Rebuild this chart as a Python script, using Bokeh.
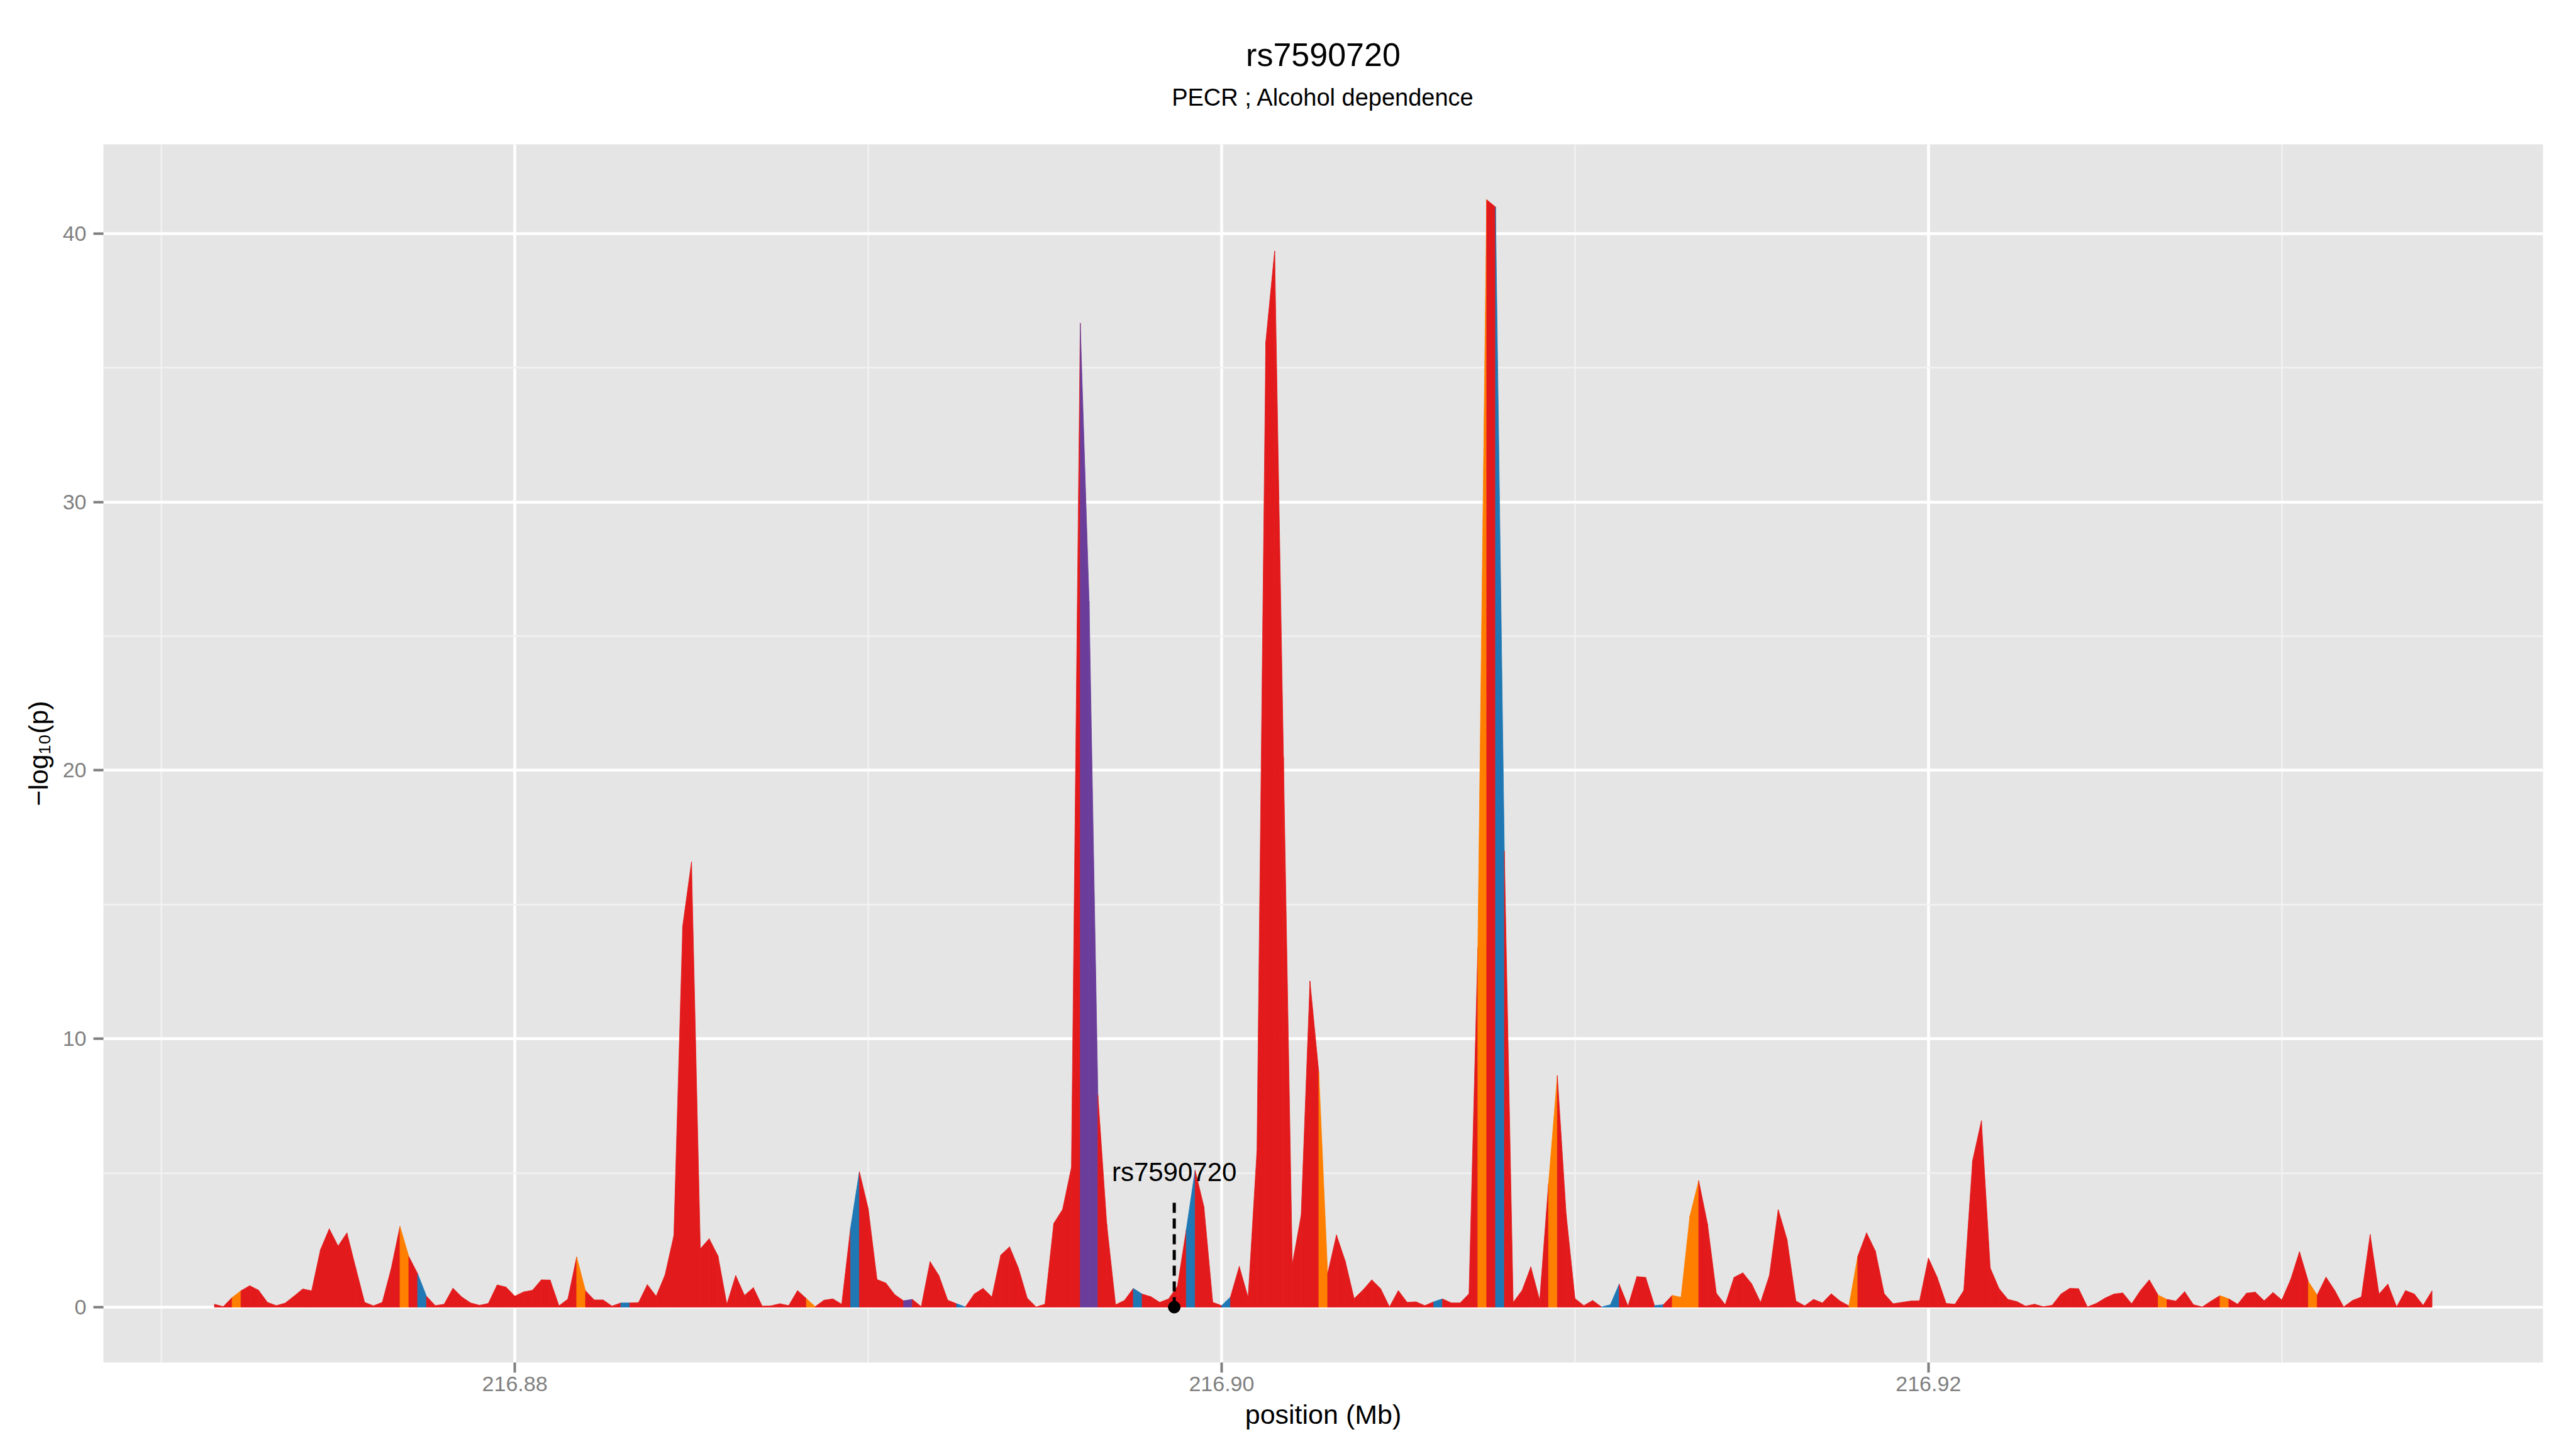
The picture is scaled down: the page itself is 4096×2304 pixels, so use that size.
from bokeh.plotting import figure
from bokeh.models import FixedTicker, Range1d, ColumnDataSource, NumeralTickFormatter
from bokeh.layouts import column
from bokeh.embed import file_html
from bokeh.resources import INLINE
from bokeh.core.properties import value

# ---------------- data ----------------
title_text = "rs7590720"
subtitle_text = "PECR ; Alcohol dependence"
x_label = "position (Mb)"
y_label = "\u2212log\u2081\u2080(p)"

snp_name = "rs7590720"
snp_pos = 216.89866
snp_line_top = 4.1
snp_label_y = 5.04

pos = [
    216.87150, 216.87175, 216.87200, 216.87225, 216.87250, 216.87275, 216.87300, 216.87325,
    216.87350, 216.87375, 216.87400, 216.87425, 216.87450, 216.87475, 216.87500, 216.87525,
    216.87550, 216.87575, 216.87600, 216.87625, 216.87650, 216.87675, 216.87700, 216.87725,
    216.87750, 216.87775, 216.87800, 216.87825, 216.87850, 216.87875, 216.87900, 216.87925,
    216.87950, 216.87975, 216.88000, 216.88025, 216.88050, 216.88075, 216.88100, 216.88125,
    216.88150, 216.88175, 216.88200, 216.88225, 216.88250, 216.88275, 216.88300, 216.88325,
    216.88350, 216.88375, 216.88400, 216.88425, 216.88450, 216.88475, 216.88500, 216.88525,
    216.88550, 216.88575, 216.88600, 216.88625, 216.88650, 216.88675, 216.88700, 216.88725,
    216.88750, 216.88775, 216.88800, 216.88825, 216.88850, 216.88875, 216.88900, 216.88925,
    216.88950, 216.88975, 216.89000, 216.89025, 216.89050, 216.89075, 216.89100, 216.89125,
    216.89150, 216.89175, 216.89200, 216.89225, 216.89250, 216.89275, 216.89300, 216.89325,
    216.89350, 216.89375, 216.89400, 216.89425, 216.89450, 216.89475, 216.89500, 216.89525,
    216.89550, 216.89575, 216.89600, 216.89625, 216.89650, 216.89675, 216.89700, 216.89725,
    216.89750, 216.89775, 216.89800, 216.89825, 216.89850, 216.89875, 216.89900, 216.89925,
    216.89950, 216.89975, 216.90000, 216.90025, 216.90050, 216.90075, 216.90100, 216.90125,
    216.90150, 216.90175, 216.90200, 216.90225, 216.90250, 216.90275, 216.90300, 216.90325,
    216.90350, 216.90375, 216.90400, 216.90425, 216.90450, 216.90475, 216.90500, 216.90525,
    216.90550, 216.90575, 216.90600, 216.90625, 216.90650, 216.90675, 216.90700, 216.90725,
    216.90750, 216.90775, 216.90800, 216.90825, 216.90850, 216.90875, 216.90900, 216.90925,
    216.90950, 216.90975, 216.91000, 216.91025, 216.91050, 216.91075, 216.91100, 216.91125,
    216.91150, 216.91175, 216.91200, 216.91225, 216.91250, 216.91275, 216.91300, 216.91325,
    216.91350, 216.91375, 216.91400, 216.91425, 216.91450, 216.91475, 216.91500, 216.91525,
    216.91550, 216.91575, 216.91600, 216.91625, 216.91650, 216.91675, 216.91700, 216.91725,
    216.91750, 216.91775, 216.91800, 216.91825, 216.91850, 216.91875, 216.91900, 216.91925,
    216.91950, 216.91975, 216.92000, 216.92025, 216.92050, 216.92075, 216.92100, 216.92125,
    216.92150, 216.92175, 216.92200, 216.92225, 216.92250, 216.92275, 216.92300, 216.92325,
    216.92350, 216.92375, 216.92400, 216.92425, 216.92450, 216.92475, 216.92500, 216.92525,
    216.92550, 216.92575, 216.92600, 216.92625, 216.92650, 216.92675, 216.92700, 216.92725,
    216.92750, 216.92775, 216.92800, 216.92825, 216.92850, 216.92875, 216.92900, 216.92925,
    216.92950, 216.92975, 216.93000, 216.93025, 216.93050, 216.93075, 216.93100, 216.93125,
    216.93150, 216.93175, 216.93200, 216.93225, 216.93250, 216.93275, 216.93300, 216.93325,
    216.93350, 216.93375, 216.93400, 216.93425,
]

logp = [
    0.11, 0.02, 0.36, 0.61, 0.80, 0.63, 0.18, 0.06, 0.15, 0.41,
    0.68, 0.61, 2.14, 2.92, 2.28, 2.77, 1.46, 0.18, 0.05, 0.18,
    1.43, 3.01, 1.89, 1.25, 0.41, 0.06, 0.11, 0.71, 0.38, 0.16,
    0.07, 0.14, 0.83, 0.75, 0.41, 0.57, 0.63, 1.02, 1.01, 0.05,
    0.30, 1.87, 0.61, 0.27, 0.27, 0.04, 0.16, 0.16, 0.17, 0.84,
    0.41, 1.20, 2.67, 14.2, 16.6, 2.18, 2.55, 1.91, 0.11, 1.18,
    0.44, 0.73, 0.04, 0.05, 0.13, 0.06, 0.62, 0.32, 0.02, 0.26,
    0.31, 0.11, 2.95, 5.05, 3.68, 1.03, 0.90, 0.47, 0.24, 0.29,
    0.02, 1.70, 1.18, 0.26, 0.13, 0.01, 0.49, 0.70, 0.38, 1.94,
    2.25, 1.46, 0.34, 0.01, 0.11, 3.12, 3.64, 5.21, 36.66, 26.3,
    7.9, 3.1, 0.09, 0.25, 0.70, 0.49, 0.39, 0.18, 0.31, 0.78,
    2.89, 5.10, 3.74, 0.18, 0.06, 0.38, 1.52, 0.36, 5.83, 35.97,
    39.35, 20.5, 1.60, 3.42, 12.15, 8.75, 1.25, 2.69, 1.71, 0.32,
    0.64, 1.02, 0.69, 0.01, 0.62, 0.18, 0.20, 0.06, 0.20, 0.31,
    0.16, 0.16, 0.50, 13.4, 41.26, 40.99, 17.0, 0.18, 0.62, 1.50,
    0.26, 4.6, 8.63, 3.46, 0.32, 0.06, 0.25, 0.01, 0.09, 0.86,
    0.04, 1.14, 1.11, 0.06, 0.09, 0.44, 0.37, 3.39, 4.71, 3.10,
    0.52, 0.09, 1.11, 1.28, 0.87, 0.18, 1.18, 3.64, 2.52, 0.23,
    0.05, 0.29, 0.16, 0.50, 0.23, 0.05, 1.89, 2.77, 2.09, 0.50,
    0.13, 0.18, 0.23, 0.24, 1.83, 1.11, 0.14, 0.11, 0.62, 5.46,
    6.95, 1.46, 0.69, 0.29, 0.21, 0.04, 0.11, 0.02, 0.07, 0.49,
    0.70, 0.69, 0.01, 0.14, 0.34, 0.49, 0.53, 0.13, 0.62, 1.02,
    0.45, 0.29, 0.23, 0.58, 0.09, 0.01, 0.23, 0.43, 0.31, 0.11,
    0.52, 0.56, 0.24, 0.55, 0.27, 1.03, 2.07, 0.96, 0.45, 1.12,
    0.62, 0.01, 0.25, 0.38, 2.71, 0.49, 0.86, 0.01, 0.62, 0.49,
    0.07, 0.61,
]

# LD class of each interval (R=red, O=orange, B=blue, P=purple)
ld_class = list(
    "RRORRRRRRR" "RRRRRRRRRR" "RORBRRRRRR" "RRRRRRRRRR" "RORRRRBRRR"
    "RRRRRRRRRR" "RRRRRRRORR" "RRBRRRRRPR" "RRRRBRRRRR" "RRRRRRRRPP"
    "RRRRBRRRRR" "BRRRBRRRRR" "RRRRRORRRR" "RRRRRRRRBR" "RRRORBRRRR"
    "RORRRRRBBR" "RRRBROOORR" "RRRRRRRRRR" "RRRRRORRRR" "RRRRRRRRRR"
    "RRRRRRRRRR" "RRRRRRRRRR" "ORRRRRRORR" "RRRRRRRORR" "RRRRRRRRRRR"
)
ld_colors = {"R": "#E31A1C", "O": "#FF7F00", "B": "#1F78B4", "P": "#6A3D9A"}

x_major = [216.88, 216.90, 216.92]
x_minor = [216.87, 216.89, 216.91, 216.93]
y_major = [0, 10, 20, 30, 40]
y_minor = [5, 15, 25, 35]

# ---------------- layout constants ----------------
FONT = "Liberation Sans"
W, H = 4096, 2304
TOP = 229                    # height of title strip (frame top)
FRAME_L, FRAME_R = 164, 4043
FRAME_B = 2166
x0, x1 = 216.86836, 216.93739
y0, y1 = -2.063, 43.323

# ---------------- title strip (frame aligned with the main plot) ----------------
t = figure(width=W, height=TOP, output_backend="svg", toolbar_location=None,
           x_range=Range1d(x0, x1), y_range=Range1d(TOP, 0),
           x_axis_type=None, y_axis_type=None,
           min_border_left=FRAME_L, min_border_right=W - FRAME_R,
           min_border_top=0, min_border_bottom=0)
t.title.visible = False
t.background_fill_color = "white"
t.border_fill_color = "white"
t.outline_line_color = None
xc = (x0 + x1) / 2
t.text(x=[xc], y=[86.5], text=[title_text], text_align="center",
       text_baseline="alphabetic", text_font=value(FONT), text_font_size="52px",
       text_color="black")
t.text(x=[xc], y=[154.0], text=[subtitle_text], text_align="center",
       text_baseline="alphabetic", text_font=value(FONT), text_font_size="38px",
       text_color="black")

# ---------------- main plot ----------------
p = figure(width=W, height=H - TOP, output_backend="svg", toolbar_location=None,
           x_range=Range1d(x0, x1), y_range=Range1d(y0, y1),
           min_border_left=FRAME_L, min_border_right=W - FRAME_R,
           min_border_top=0, min_border_bottom=H - FRAME_B)
p.background_fill_color = "#E5E5E5"
p.border_fill_color = "white"
p.outline_line_color = None

xt = FixedTicker(ticks=x_major, minor_ticks=x_minor)
yt = FixedTicker(ticks=y_major, minor_ticks=y_minor)
p.xaxis.ticker = xt
p.yaxis.ticker = yt
p.xgrid.ticker = xt
p.ygrid.ticker = yt
for g in (p.xgrid, p.ygrid):
    g.grid_line_color = "white"
    g.grid_line_width = 4.6
    g.minor_grid_line_color = "#F2F2F2"
    g.minor_grid_line_width = 2.4

p.xaxis.formatter = NumeralTickFormatter(format="0.00")
for ax in (p.xaxis, p.yaxis):
    ax.axis_line_color = None
    ax.minor_tick_line_color = None
    ax.major_tick_out = 16
    ax.major_tick_in = 0
    ax.major_tick_line_color = "#7F7F7F"
    ax.major_tick_line_width = 4
    ax.major_label_text_font = FONT
    ax.major_label_text_font_size = "34px"
    ax.major_label_text_color = "#7F7F7F"
    ax.axis_label_text_font = FONT
    ax.axis_label_text_font_size = "43px"
    ax.axis_label_text_font_style = "normal"
    ax.axis_label_text_color = "black"

p.xaxis.axis_label = x_label
p.yaxis.axis_label = y_label
p.xaxis.major_label_standoff = 6
p.xaxis.axis_label_standoff = 10
p.yaxis.major_label_standoff = 11
p.yaxis.axis_label_standoff = 12

# area, one polygon per interval coloured by LD class
xs, ys, cs = [], [], []
for i in range(len(pos) - 1):
    xs.append([pos[i], pos[i], pos[i + 1], pos[i + 1]])
    ys.append([0, logp[i], logp[i + 1], 0])
    cs.append(ld_colors[ld_class[i]])
src = ColumnDataSource(dict(xs=xs, ys=ys, c=cs))
p.patches("xs", "ys", source=src, fill_color="c", line_color="c", line_width=0.8)

# index SNP marker
p.segment(x0=[snp_pos], y0=[0], x1=[snp_pos], y1=[snp_line_top],
          line_color="black", line_width=5, line_dash="16 9")
p.scatter([snp_pos], [0], size=19, color="black")
p.text(x=[snp_pos], y=[snp_label_y], text=[snp_name], text_align="center",
       text_baseline="alphabetic", text_font=value(FONT), text_font_size="42px",
       text_color="black")

layout = column(t, p, spacing=0)
open("out.html", "w").write(file_html(layout, INLINE))
